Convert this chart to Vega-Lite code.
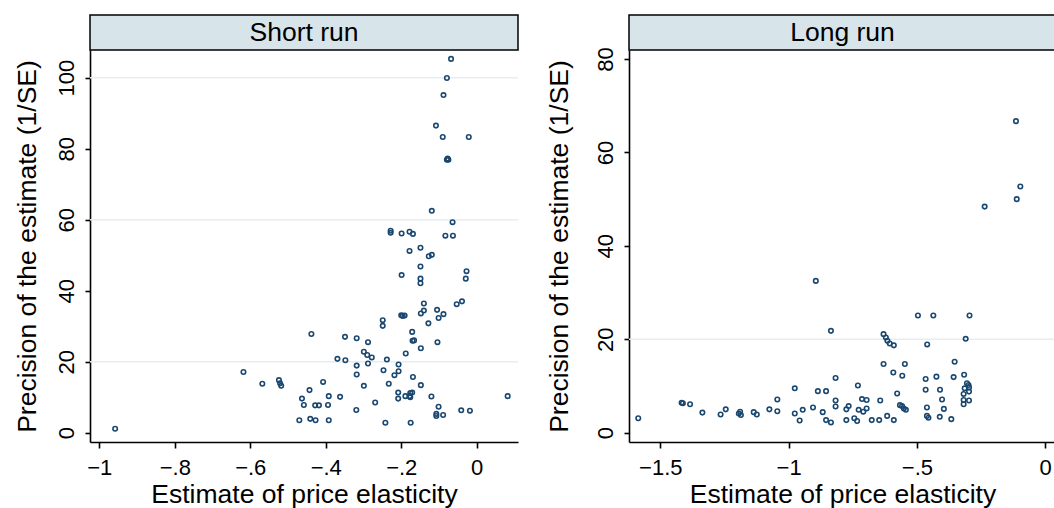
{
  "$schema": "https://vega.github.io/schema/vega-lite/v6.json",
  "padding": {"left": 14, "top": 14, "right": 0, "bottom": 0},
  "background": "white",
  "config": {
    "view": {"stroke": null},
    "font": "Liberation Sans",
    "axis": {
      "domainColor": "#000", "tickColor": "#000", "domainWidth": 1.6, "tickWidth": 1.6, "tickSize": 5,
      "labelFont": "Liberation Sans", "labelFontSize": 22, "labelColor": "#000",
      "titleFont": "Liberation Sans", "titleFontSize": 26.5, "titleFontWeight": "normal", "titleColor": "#000",
      "grid": false
    },
    "axisX": {"tickSize": 6, "labelPadding": 9, "titlePadding": 3, "labelFlush": false, "labelOverlap": false},
    "axisY": {"labelAngle": 270, "labelAlign": "center", "labelBaseline": "alphabetic", "labelPadding": 12, "labelOverlap": false}
  },
  "datasets": {
    "short": [
      {"elasticity": -0.068, "precision": 105.3}, {"elasticity": -0.079, "precision": 99.9}, {"elasticity": -0.088, "precision": 95.1},
      {"elasticity": -0.108, "precision": 86.5}, {"elasticity": -0.090, "precision": 83.3}, {"elasticity": -0.021, "precision": 83.3},
      {"elasticity": -0.079, "precision": 76.9}, {"elasticity": -0.075, "precision": 76.9}, {"elasticity": -0.077, "precision": 77.2},
      {"elasticity": -0.119, "precision": 62.5}, {"elasticity": -0.064, "precision": 59.3},
      {"elasticity": -0.228, "precision": 56.9}, {"elasticity": -0.228, "precision": 56.3}, {"elasticity": -0.199, "precision": 56.1},
      {"elasticity": -0.178, "precision": 56.6}, {"elasticity": -0.169, "precision": 56.0}, {"elasticity": -0.083, "precision": 55.5},
      {"elasticity": -0.063, "precision": 55.5},
      {"elasticity": -0.178, "precision": 51.2}, {"elasticity": -0.149, "precision": 52.1}, {"elasticity": -0.127, "precision": 49.7},
      {"elasticity": -0.119, "precision": 50.1}, {"elasticity": -0.149, "precision": 46.8}, {"elasticity": -0.199, "precision": 44.4},
      {"elasticity": -0.149, "precision": 43.4}, {"elasticity": -0.149, "precision": 42.1}, {"elasticity": -0.027, "precision": 45.5},
      {"elasticity": -0.029, "precision": 43.4},
      {"elasticity": -0.140, "precision": 36.4}, {"elasticity": -0.140, "precision": 34.4}, {"elasticity": -0.148, "precision": 33.6},
      {"elasticity": -0.105, "precision": 34.6}, {"elasticity": -0.088, "precision": 33.4}, {"elasticity": -0.101, "precision": 32.3},
      {"elasticity": -0.053, "precision": 36.2}, {"elasticity": -0.039, "precision": 37.0}, {"elasticity": -0.128, "precision": 30.8},
      {"elasticity": -0.200, "precision": 33.1}, {"elasticity": -0.196, "precision": 32.9}, {"elasticity": -0.191, "precision": 33.0},
      {"elasticity": -0.249, "precision": 31.7}, {"elasticity": -0.249, "precision": 30.1}, {"elasticity": -0.171, "precision": 28.4},
      {"elasticity": -0.170, "precision": 25.9}, {"elasticity": -0.166, "precision": 26.0}, {"elasticity": -0.104, "precision": 25.5},
      {"elasticity": -0.148, "precision": 23.8}, {"elasticity": -0.188, "precision": 22.3},
      {"elasticity": -0.438, "precision": 27.8}, {"elasticity": -0.349, "precision": 27.0}, {"elasticity": -0.318, "precision": 26.6},
      {"elasticity": -0.288, "precision": 25.5}, {"elasticity": -0.299, "precision": 22.8}, {"elasticity": -0.290, "precision": 21.9},
      {"elasticity": -0.278, "precision": 21.2}, {"elasticity": -0.369, "precision": 20.8}, {"elasticity": -0.348, "precision": 20.4},
      {"elasticity": -0.238, "precision": 20.6},
      {"elasticity": -0.318, "precision": 18.9}, {"elasticity": -0.288, "precision": 19.5}, {"elasticity": -0.207, "precision": 19.2},
      {"elasticity": -0.207, "precision": 17.3}, {"elasticity": -0.218, "precision": 16.2}, {"elasticity": -0.247, "precision": 17.6},
      {"elasticity": -0.318, "precision": 16.4}, {"elasticity": -0.169, "precision": 15.7}, {"elasticity": -0.233, "precision": 13.8},
      {"elasticity": -0.148, "precision": 13.4}, {"elasticity": -0.299, "precision": 13.2}, {"elasticity": -0.407, "precision": 14.3},
      {"elasticity": -0.618, "precision": 17.1}, {"elasticity": -0.568, "precision": 13.8}, {"elasticity": -0.524, "precision": 14.8},
      {"elasticity": -0.521, "precision": 13.9}, {"elasticity": -0.518, "precision": 13.2}, {"elasticity": -0.443, "precision": 12.0},
      {"elasticity": -0.463, "precision": 9.6}, {"elasticity": -0.458, "precision": 7.8}, {"elasticity": -0.428, "precision": 7.7},
      {"elasticity": -0.418, "precision": 7.7}, {"elasticity": -0.394, "precision": 7.8}, {"elasticity": -0.392, "precision": 10.3},
      {"elasticity": -0.362, "precision": 10.1}, {"elasticity": -0.319, "precision": 6.4}, {"elasticity": -0.269, "precision": 8.5},
      {"elasticity": -0.208, "precision": 11.3}, {"elasticity": -0.208, "precision": 9.6}, {"elasticity": -0.189, "precision": 10.3},
      {"elasticity": -0.178, "precision": 10.3}, {"elasticity": -0.171, "precision": 11.3}, {"elasticity": -0.176, "precision": 10.0},
      {"elasticity": -0.176, "precision": 11.2},
      {"elasticity": -0.120, "precision": 10.2}, {"elasticity": -0.101, "precision": 7.3}, {"elasticity": -0.107, "precision": 5.3},
      {"elasticity": -0.107, "precision": 4.7}, {"elasticity": -0.089, "precision": 5.0}, {"elasticity": -0.041, "precision": 6.3},
      {"elasticity": -0.018, "precision": 6.2}, {"elasticity": 0.082, "precision": 10.3},
      {"elasticity": -0.470, "precision": 3.5}, {"elasticity": -0.441, "precision": 3.9}, {"elasticity": -0.427, "precision": 3.5},
      {"elasticity": -0.392, "precision": 3.5}, {"elasticity": -0.242, "precision": 2.8}, {"elasticity": -0.175, "precision": 2.8},
      {"elasticity": -0.958, "precision": 1.1}
    ],
    "long": [
      {"elasticity": -1.586, "precision": 3.1}, {"elasticity": -1.417, "precision": 6.4}, {"elasticity": -1.412, "precision": 6.3},
      {"elasticity": -1.384, "precision": 6.1}, {"elasticity": -1.336, "precision": 4.3}, {"elasticity": -1.265, "precision": 3.9},
      {"elasticity": -1.245, "precision": 5.0}, {"elasticity": -1.194, "precision": 4.1}, {"elasticity": -1.189, "precision": 4.5},
      {"elasticity": -1.186, "precision": 3.8}, {"elasticity": -1.136, "precision": 4.4}, {"elasticity": -1.124, "precision": 3.9},
      {"elasticity": -1.075, "precision": 5.0}, {"elasticity": -1.044, "precision": 7.1}, {"elasticity": -1.044, "precision": 4.6},
      {"elasticity": -0.976, "precision": 9.5}, {"elasticity": -0.976, "precision": 4.1}, {"elasticity": -0.957, "precision": 2.6},
      {"elasticity": -0.945, "precision": 4.9}, {"elasticity": -0.905, "precision": 5.4}, {"elasticity": -0.894, "precision": 32.5},
      {"elasticity": -0.886, "precision": 8.9}, {"elasticity": -0.867, "precision": 4.4}, {"elasticity": -0.854, "precision": 8.9},
      {"elasticity": -0.854, "precision": 2.7}, {"elasticity": -0.835, "precision": 21.8}, {"elasticity": -0.835, "precision": 2.2},
      {"elasticity": -0.817, "precision": 11.7}, {"elasticity": -0.817, "precision": 6.9}, {"elasticity": -0.817, "precision": 5.6},
      {"elasticity": -0.775, "precision": 5.0}, {"elasticity": -0.775, "precision": 2.7}, {"elasticity": -0.766, "precision": 5.7},
      {"elasticity": -0.730, "precision": 10.1}, {"elasticity": -0.744, "precision": 3.1}, {"elasticity": -0.733, "precision": 2.5},
      {"elasticity": -0.727, "precision": 4.9}, {"elasticity": -0.714, "precision": 7.2}, {"elasticity": -0.709, "precision": 4.5},
      {"elasticity": -0.696, "precision": 7.0}, {"elasticity": -0.696, "precision": 5.2}, {"elasticity": -0.676, "precision": 2.7},
      {"elasticity": -0.647, "precision": 2.7}, {"elasticity": -0.643, "precision": 6.9},
      {"elasticity": -0.630, "precision": 14.7}, {"elasticity": -0.630, "precision": 21.1}, {"elasticity": -0.621, "precision": 20.4},
      {"elasticity": -0.615, "precision": 19.7}, {"elasticity": -0.606, "precision": 19.1}, {"elasticity": -0.590, "precision": 18.7},
      {"elasticity": -0.616, "precision": 3.6}, {"elasticity": -0.592, "precision": 12.9}, {"elasticity": -0.590, "precision": 2.7},
      {"elasticity": -0.577, "precision": 8.4}, {"elasticity": -0.566, "precision": 5.9}, {"elasticity": -0.558, "precision": 5.7},
      {"elasticity": -0.551, "precision": 5.2}, {"elasticity": -0.543, "precision": 4.9}, {"elasticity": -0.557, "precision": 12.2},
      {"elasticity": -0.547, "precision": 14.7},
      {"elasticity": -0.496, "precision": 25.1}, {"elasticity": -0.436, "precision": 25.1}, {"elasticity": -0.460, "precision": 18.9},
      {"elasticity": -0.466, "precision": 11.5}, {"elasticity": -0.466, "precision": 9.2}, {"elasticity": -0.461, "precision": 5.4},
      {"elasticity": -0.461, "precision": 3.6}, {"elasticity": -0.455, "precision": 3.2}, {"elasticity": -0.424, "precision": 12.0},
      {"elasticity": -0.410, "precision": 9.2}, {"elasticity": -0.402, "precision": 7.1}, {"elasticity": -0.395, "precision": 5.1},
      {"elasticity": -0.411, "precision": 3.4}, {"elasticity": -0.366, "precision": 2.9}, {"elasticity": -0.353, "precision": 15.2},
      {"elasticity": -0.357, "precision": 11.9}, {"elasticity": -0.316, "precision": 12.4}, {"elasticity": -0.310, "precision": 20.1},
      {"elasticity": -0.295, "precision": 25.1},
      {"elasticity": -0.318, "precision": 8.3}, {"elasticity": -0.318, "precision": 7.0}, {"elasticity": -0.318, "precision": 6.1},
      {"elasticity": -0.314, "precision": 9.5}, {"elasticity": -0.305, "precision": 10.6}, {"elasticity": -0.299, "precision": 10.2},
      {"elasticity": -0.297, "precision": 9.7}, {"elasticity": -0.297, "precision": 8.8}, {"elasticity": -0.297, "precision": 6.9},
      {"elasticity": -0.236, "precision": 48.4}, {"elasticity": -0.114, "precision": 66.7}, {"elasticity": -0.111, "precision": 50.0},
      {"elasticity": -0.097, "precision": 52.7}
    ],
    "gridShort": [{"precision": 20}, {"precision": 60}, {"precision": 100}],
    "gridLong": [{"precision": 20}]
  },
  "spacing": 27,
  "hconcat": [
    {
      "bounds": "flush",
      "spacing": 0,
      "vconcat": [
        {
          "width": 428, "height": 35,
          "view": {"fill": "#d7e4ea", "stroke": "#000", "strokeWidth": 1.5},
          "data": {"values": [{"label": "Short run"}]},
          "mark": {"type": "text", "font": "Liberation Sans", "fontSize": 26.5, "color": "#000", "baseline": "middle", "align": "center"},
          "encoding": {"text": {"field": "label", "type": "nominal"}}
        },
        {
          "width": 428, "height": 392,
          "layer": [
            {
              "data": {"name": "gridShort"},
              "mark": {"type": "rule", "color": "#e6eef1", "strokeWidth": 1.5},
              "encoding": {
                "y": {"field": "precision", "type": "quantitative", "scale": {"domain": [-2.62, 107.8], "nice": false, "zero": false}}
              }
            },
            {
              "data": {"name": "short"},
              "mark": {"type": "point", "shape": "circle", "filled": false, "size": 20, "strokeWidth": 1.6, "color": "#1a476f", "opacity": 1},
              "encoding": {
                "x": {
                  "field": "elasticity", "type": "quantitative",
                  "scale": {"domain": [-1.0246, 0.1094], "nice": false, "zero": false},
                  "axis": {"title": "Estimate of price elasticity", "values": [-1, -0.8, -0.6, -0.4, -0.2, 0],
                    "labelExpr": "datum.value == 0 ? '0' : replace(replace(format(datum.value, '~g'), '0.', '.'), '-', '\u2212')"}
                },
                "y": {
                  "field": "precision", "type": "quantitative",
                  "scale": {"domain": [-2.62, 107.8], "nice": false, "zero": false},
                  "axis": {"title": "Precision of the estimate (1/SE)", "values": [0, 20, 40, 60, 80, 100], "titlePadding": 14}
                }
              }
            }
          ]
        }
      ]
    },
    {
      "bounds": "flush",
      "spacing": 0,
      "vconcat": [
        {
          "width": 427, "height": 35,
          "view": {"fill": "#d7e4ea", "stroke": "#000", "strokeWidth": 1.5},
          "data": {"values": [{"label": "Long run"}]},
          "mark": {"type": "text", "font": "Liberation Sans", "fontSize": 26.5, "color": "#000", "baseline": "middle", "align": "center"},
          "encoding": {"text": {"field": "label", "type": "nominal"}}
        },
        {
          "width": 427, "height": 392,
          "layer": [
            {
              "data": {"name": "gridLong"},
              "mark": {"type": "rule", "color": "#e6eef1", "strokeWidth": 1.5},
              "encoding": {
                "y": {"field": "precision", "type": "quantitative", "scale": {"domain": [-1.99, 81.93], "nice": false, "zero": false}}
              }
            },
            {
              "data": {"name": "long"},
              "mark": {"type": "point", "shape": "circle", "filled": false, "size": 20, "strokeWidth": 1.6, "color": "#1a476f", "opacity": 1},
              "encoding": {
                "x": {
                  "field": "elasticity", "type": "quantitative",
                  "scale": {"domain": [-1.622, 0.042], "nice": false, "zero": false},
                  "axis": {"title": "Estimate of price elasticity", "values": [-1.5, -1, -0.5, 0],
                    "labelExpr": "datum.value == 0 ? '0' : replace(replace(format(datum.value, '~g'), '0.', '.'), '-', '\u2212')"}
                },
                "y": {
                  "field": "precision", "type": "quantitative",
                  "scale": {"domain": [-1.99, 81.93], "nice": false, "zero": false},
                  "axis": {"title": "Precision of the estimate (1/SE)", "values": [0, 20, 40, 60, 80], "titlePadding": 21}
                }
              }
            }
          ]
        }
      ]
    }
  ]
}
